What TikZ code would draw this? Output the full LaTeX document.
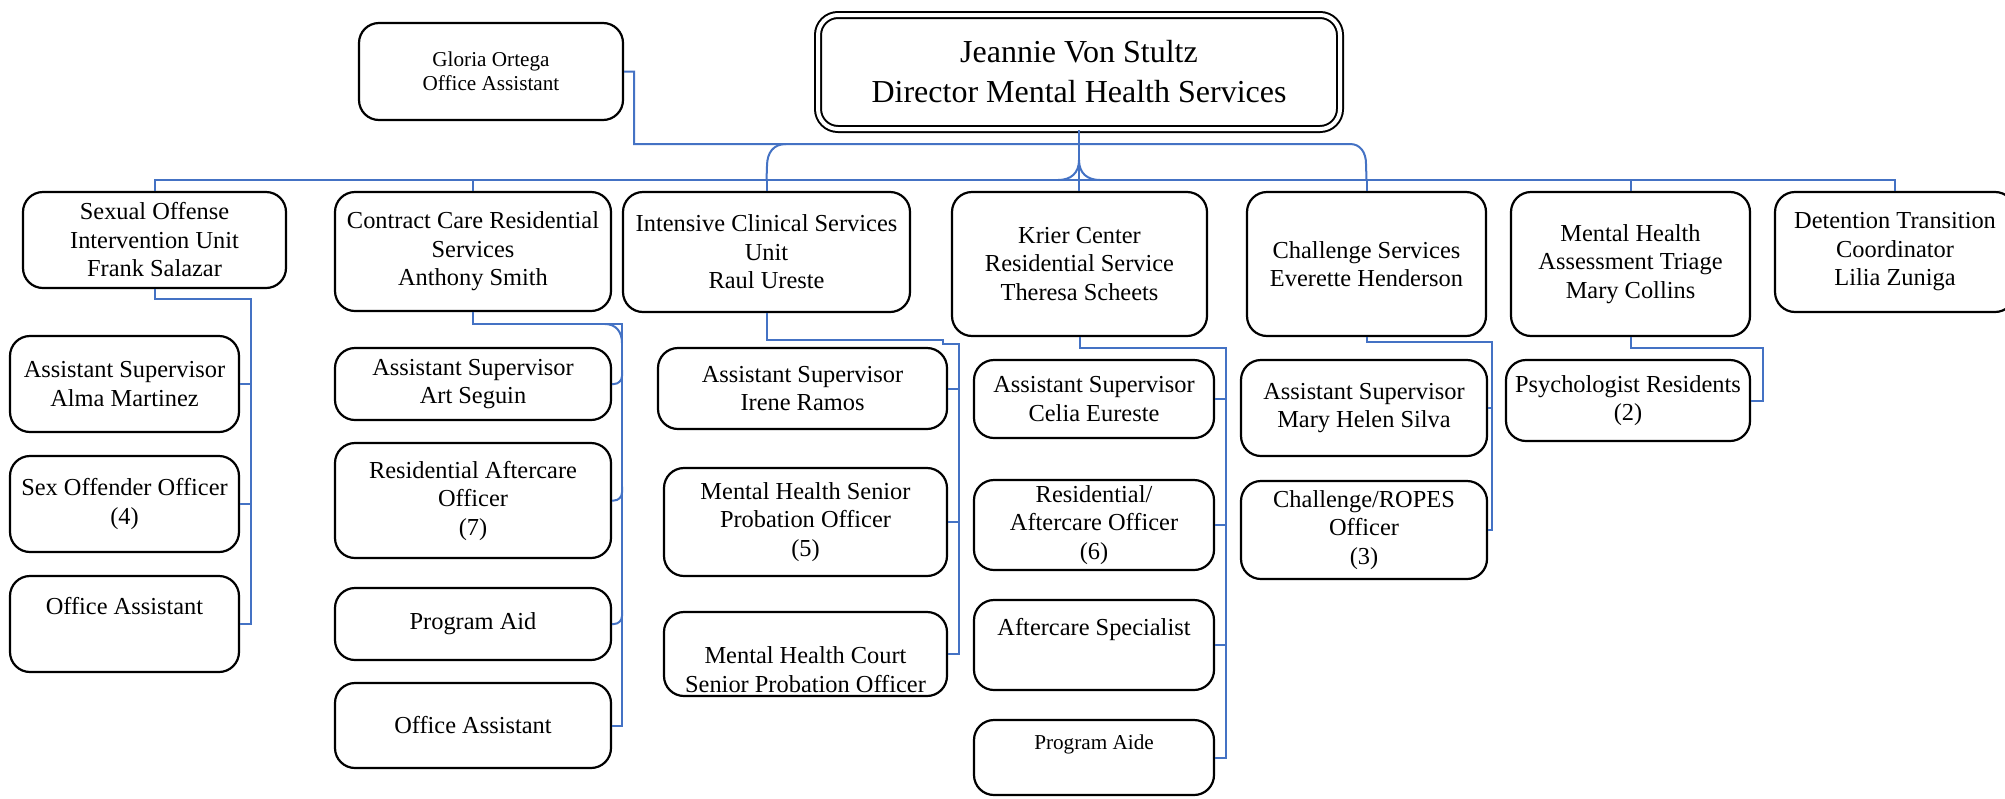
\documentclass[tikz,border=0pt]{standalone}
\usepackage{fontspec}
\setmainfont{Liberation Serif}
\newfontfamily\orgfont{Liberation Serif}
\usetikzlibrary{calc}
\definecolor{conncol}{HTML}{4472C4}
\tikzset{
 box/.style={draw=black, line width=1.1pt, rounded corners=10pt, fill=white, align=center, inner sep=0pt, font=\orgfont\fontsize{12.2}{14.25}\selectfont},
 smallbox/.style={font=\orgfont\fontsize{10.6}{12}\selectfont},
 dirbox/.style={double, double distance=2pt, line width=1pt, font=\orgfont\fontsize{16}{20}\selectfont},
 conn/.style={draw=conncol, line width=1pt},
}
\newcommand\bx[7][]{\node[box,#1, minimum width={(#5-#3)/2}, minimum height={(#6-#4)/2}] (#2) at ({(#3+#5)/2},{(#4+#6)/2}) {#7};}
\begin{document}
\begin{tikzpicture}[x=0.5pt,y=-0.5pt]
\fill[white] (0,0) rectangle (2005,798);
\useasboundingbox (0,0) rectangle (2005,798);
% top
\bx[smallbox]{gl}{359}{23}{623}{120}{Gloria Ortega\\Office Assistant}
\bx[dirbox]{dir}{818}{15}{1340}{129}{Jeannie Von Stultz\\Director Mental Health Services}
% level 2
\bx{so}{23}{192}{286}{288}{Sexual Offense\\Intervention Unit\\Frank Salazar}
\bx{cc}{335}{192}{611}{311}{Contract Care Residential\\Services\\Anthony Smith}
\bx{ic}{623}{192}{910}{312}{Intensive Clinical Services\\Unit\\Raul Ureste}
\bx{kc}{952}{192}{1207}{336}{Krier Center\\Residential Service\\Theresa Scheets}
\bx{cs}{1247}{192}{1486}{336}{Challenge Services\\Everette Henderson}
\bx{mh}{1511}{192}{1750}{336}{Mental Health\\Assessment Triage\\Mary Collins}
\bx{dt}{1775}{192}{2015}{312}{Detention Transition\\Coordinator\\Lilia Zuniga}
% SO children
\bx{so1}{10}{336}{239}{432}{Assistant Supervisor\\Alma Martinez}
\bx{so2}{10}{456}{239}{552}{Sex Offender Officer\\(4)}
\bx{so3}{10}{576}{239}{672}{Office Assistant\\\strut}
% CC children
\bx{cc1}{335}{348}{611}{420}{Assistant Supervisor\\Art Seguin}
\bx{cc2}{335}{443}{611}{558}{Residential Aftercare\\Officer\\(7)}
\bx{cc3}{335}{588}{611}{660}{Program Aid}
\bx{cc4}{335}{683}{611}{768}{Office Assistant}
% IC children
\bx{ic1}{658}{348}{947}{429}{Assistant Supervisor\\Irene Ramos}
\bx{ic2}{664}{468}{947}{576}{Mental Health Senior\\Probation Officer\\(5)}
\bx{ic3}{664}{612}{947}{696}{\strut\\Mental Health Court\\Senior Probation Officer}
% KC children
\bx{kc1}{974}{360}{1214}{438}{Assistant Supervisor\\Celia Eureste}
\bx{kc2}{974}{480}{1214}{570}{Residential/\\Aftercare Officer\\(6)}
\bx{kc3}{974}{600}{1214}{690}{Aftercare Specialist\\\strut}
\bx[smallbox]{kc4}{974}{720}{1214}{795}{Program Aide\\\strut}
% CS children
\bx{cs1}{1241}{360}{1487}{456}{Assistant Supervisor\\Mary Helen Silva}
\bx{cs2}{1241}{481}{1487}{579}{Challenge/ROPES\\Officer\\(3)}
% MH child
\bx{mh1}{1506}{360}{1750}{441}{Psychologist Residents\\(2)}

% ---- top connectors
\coordinate (busY) at (0,180);
\draw[conn] (so.north) -- (so.north |- busY) -- (dt.north |- busY) -- (dt.north);
\foreach \n in {cc,ic,cs,mh} \draw[conn] (\n.north |- busY) -- (\n.north);
\draw[conn] (dir.south) -- (dir.south |- kc.north);
\draw[conn] (1079,160) .. controls (1079,173) and (1071,180) .. (1058,180);
\draw[conn] (1079,160) .. controls (1079,173) and (1087,180) .. (1100,180);
\coordinate (glA) at (634,144);
\coordinate (glB) at (1350,144);
\draw[conn] (gl.east) -| (glA) -- (glB) .. controls (1360,144) and (1366,152) .. (1366,164) -- (cs.north |- busY);
\draw[conn] (786,144) .. controls (774,144) and (767,152) .. (767,166) -- (ic.north |- busY);

% ---- SO
\coordinate (soT) at (251,299);
\draw[conn] (so.south) |- (soT) |- (so3.east);
\foreach \c in {so1,so2} \draw[conn] (\c.east) -- (\c.east -| soT);
% ---- CC
\coordinate (ccT) at (622,324);
\draw[conn] (cc.south) |- (ccT) |- (cc4.east);
\draw[conn] (605,324) .. controls (616,324) and (622,332) .. (622,343);
\foreach \c in {cc1,cc2,cc3} \draw[conn, rounded corners=4pt] (\c.east) -| ($(\c.east -| ccT)+(0,-14)$);
% ---- IC
\coordinate (icA) at (943,340);
\coordinate (icT) at (959,344);
\draw[conn] (ic.south) |- (icA) |- (icT) |- (ic3.east);
\foreach \c in {ic1,ic2} \draw[conn] (\c.east) -- (\c.east -| icT);
% ---- KC
\coordinate (kcT) at (1226,348);
\draw[conn] (kc.south) |- (kcT) |- (kc4.east);
\foreach \c in {kc1,kc2,kc3} \draw[conn] (\c.east) -- (\c.east -| kcT);
% ---- CS
\coordinate (csT) at (1492,342);
\draw[conn] (cs.south) |- (csT) |- (cs2.east);
\draw[conn] (cs1.east) -- (cs1.east -| csT);
% ---- MH
\coordinate (mhT) at (1763,348);
\draw[conn] (mh.south) |- (mhT) |- (mh1.east);
\end{tikzpicture}
\end{document}
